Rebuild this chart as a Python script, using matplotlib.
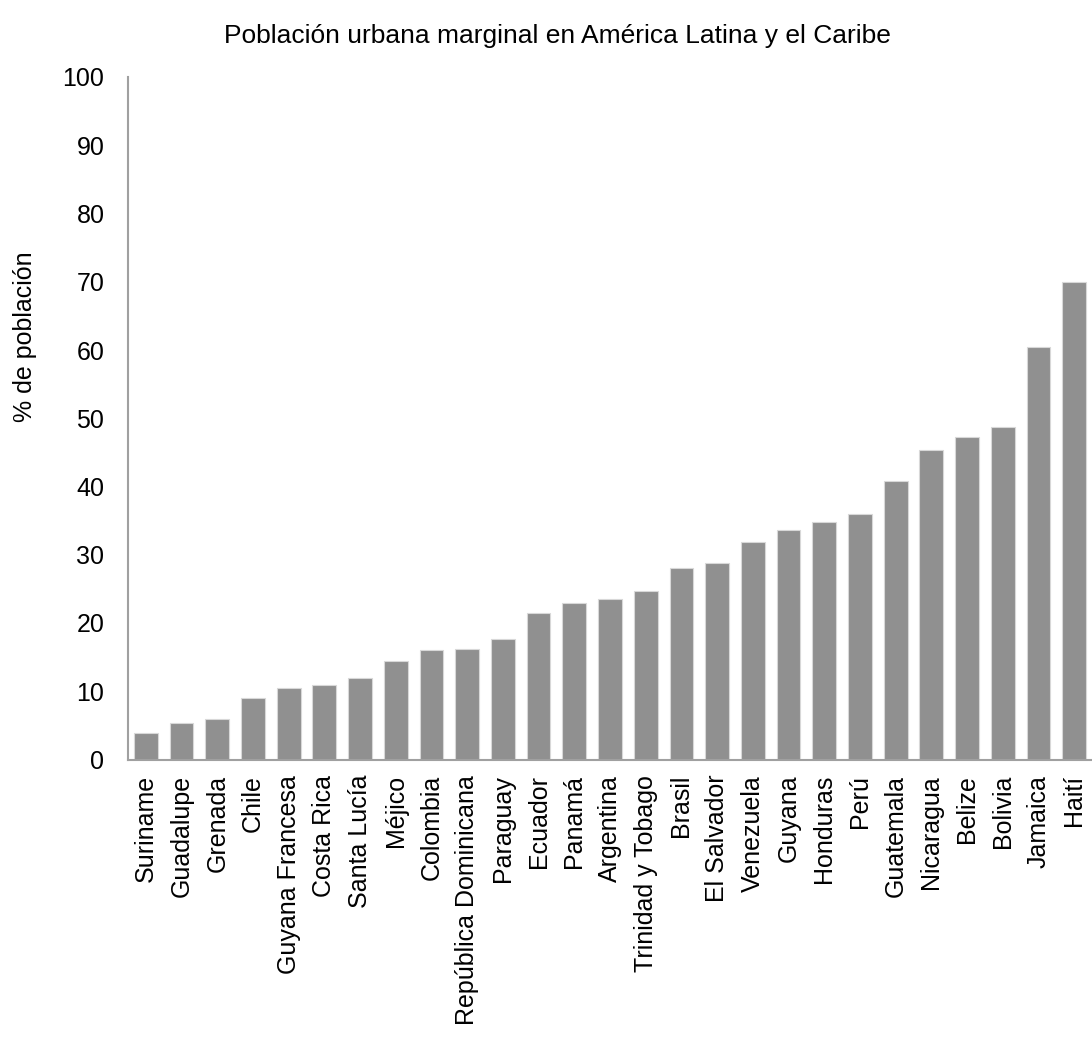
import matplotlib
matplotlib.use("Agg")
import matplotlib.pyplot as plt

paises = ["Suriname", "Guadalupe", "Grenada", "Chile", "Guyana Francesa",
          "Costa Rica", "Santa Lucía", "Méjico", "Colombia",
          "República Dominicana", "Paraguay", "Ecuador", "Panamá",
          "Argentina", "Trinidad y Tobago", "Brasil", "El Salvador",
          "Venezuela", "Guyana", "Honduras", "Perú", "Guatemala",
          "Nicaragua", "Belize", "Bolivia", "Jamaica", "Haití"]
porcentaje = [3.9, 5.4, 5.9, 9.0, 10.5, 10.9, 11.9, 14.4, 16.0, 16.2, 17.6,
              21.4, 22.9, 23.5, 24.7, 28.0, 28.8, 31.9, 33.6, 34.8, 36.0,
              40.8, 45.4, 47.2, 48.7, 60.5, 70.0]
y_ticks = [0, 10, 20, 30, 40, 50, 60, 70, 80, 90, 100]

plt.rcParams['font.family'] = ['Liberation Sans', 'DejaVu Sans']

W, H = 1092, 1041
fig = plt.figure(figsize=(W / 100, H / 100), dpi=100)
ax = fig.add_axes([128 / W, 1 - 759.5 / H, 1 - 128 / W, (759.5 - 77) / H])

x = range(len(paises))
ax.bar(x, porcentaje, width=0.665, color="#909090",
       edgecolor="#d8d8d8", linewidth=0.8, zorder=2)

ax.set_xlim(-0.5, len(paises) - 0.5)
ax.set_ylim(0, 100)
ax.set_yticks(y_ticks)
ax.set_yticklabels([str(v) for v in y_ticks], fontsize=18)
ax.set_xticks(list(x))
ax.set_xticklabels(paises, rotation=90, fontsize=18)
ax.tick_params(axis="both", length=0)
ax.tick_params(axis="y", pad=17)
ax.tick_params(axis="x", pad=11)

for s in ["top", "right"]:
    ax.spines[s].set_visible(False)
for s in ["left", "bottom"]:
    ax.spines[s].set_color("#a0a0a0")
    ax.spines[s].set_linewidth(1.5)

fig.text(557 / W, 1 - 36 / H, "Población urbana marginal en América Latina y el Caribe",
         ha="center", va="center", fontsize=19)
fig.text(25 / W, 1 - 337 / H, "% de población", rotation=90,
         ha="center", va="center", fontsize=18)

fig.savefig("out.png", dpi=100)
